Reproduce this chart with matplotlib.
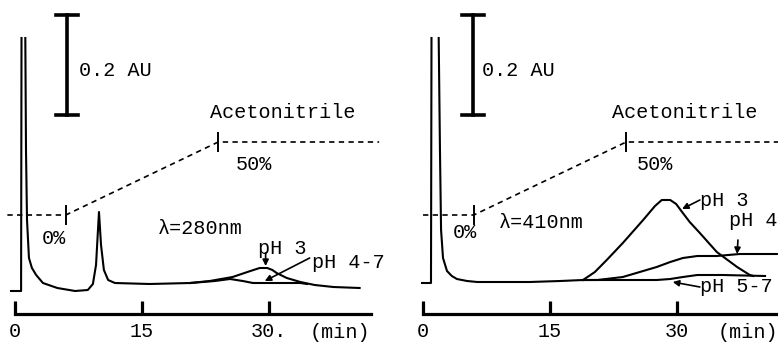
import matplotlib
matplotlib.use('Agg')
import matplotlib.pyplot as plt
import numpy as np

plt.rcParams['font.family'] = ['Liberation Mono', 'DejaVu Sans Mono']

nan = np.nan

# ---------------- data ----------------
# acetonitrile gradient programme (time in min, % acetonitrile)
grad_time_left = [-0.9, 6, 24, 43]
grad_time_right = [0, 6, 24, 42]
grad_pct = [0, 0, 50, 50]
grad_tick_time = [6, 24]

# x axis ticks
xtick_vals = [0, 15, 30]
xtick_left_labels = ['0', '15', '30.']
xtick_right_labels = ['0', '15', '30']

# 280 nm chromatogram (time min, absorbance AU relative to baseline)
t280_main = [-0.47, 0.72, 0.77, nan, 1.22, 1.30, 1.42, 1.65, 2.0, 2.5, 3.3, 5.0, 7.1,
             8.6, 9.2, 9.57, 9.92, 10.16, 10.5, 11.0, 11.8, 15.9, 20.7]
a280_main = [-0.016, -0.016, 0.49, nan, 0.49, 0.266, 0.126, 0.05, 0.03, 0.016, 0.0, -0.01, -0.016,
             -0.014, -0.002, 0.036, 0.142, 0.076, 0.026, 0.006, 0.0, -0.002, 0.0]
t280_ph3 = [20.7, 23.0, 25.7, 27.8, 28.9, 29.8, 30.4, 30.9, 32.1, 33.7, 35.4, 37.6, 40.7]
a280_ph3 = [0.0, 0.004, 0.012, 0.024, 0.03, 0.03, 0.026, 0.02, 0.01, 0.002, -0.004, -0.008, -0.01]
t280_ph47 = [20.7, 23.6, 25.4, 26.9, 28.1, 30.1, 32.1, 33.7, 34.5]
a280_ph47 = [0.0, 0.004, 0.008, 0.004, 0.0, 0.0, 0.0, 0.0, -0.002]

# 410 nm chromatogram
t410_main = [-0.12, 0.94, 1.0, nan, 1.85, 2.0, 2.13, 2.36, 2.83, 3.4, 4.0, 5.2, 6.4, 12.6, 16.2, 18.9]
a410_main = [0.0, 0.0, 0.49, nan, 0.49, 0.266, 0.106, 0.05, 0.024, 0.014, 0.008, 0.004, 0.002,
             0.002, 0.004, 0.006]
t410_ph3 = [18.9, 20.3, 21.7, 23.6, 26.0, 27.4, 28.2, 29.2, 29.9, 30.6, 31.5, 32.7, 34.7,
            37.1, 38.6, 39.0]
a410_ph3 = [0.006, 0.022, 0.046, 0.08, 0.126, 0.154, 0.166, 0.166, 0.158, 0.142, 0.122, 0.1,
            0.062, 0.032, 0.016, 0.014]
t410_ph4 = [18.9, 20.6, 23.6, 25.6, 27.6, 29.2, 30.7, 32.4, 34.7, 37.4, 41.8]
a410_ph4 = [0.006, 0.006, 0.012, 0.022, 0.032, 0.042, 0.05, 0.054, 0.054, 0.058, 0.058]
t410_ph57 = [18.9, 23.6, 27.6, 29.2, 30.7, 32.4, 35.4, 40.4]
a410_ph57 = [0.006, 0.006, 0.006, 0.008, 0.012, 0.016, 0.016, 0.014]

scale_bar_au = 0.2
grad_base_au = 0.136
grad_au_per_pct = 0.146 / 50

FS = 14.5
LW = 1.5

fig = plt.figure(figsize=(7.78, 3.42), dpi=100)
axL = fig.add_axes([0, 0, 389 / 778, 1])
axR = fig.add_axes([389 / 778, 0, 389 / 778, 1])
axL.set_xlim(-1.77, 44.17)
axR.set_xlim(-4.02, 41.93)


def style_axis(ax, labels, xmax):
    ax.set_ylim(-0.118, 0.566)
    ax.patch.set_alpha(0)
    for s in ['top', 'left', 'right']:
        ax.spines[s].set_visible(False)
    ax.spines['bottom'].set_position(('data', -0.062))
    ax.spines['bottom'].set_bounds(0, xmax)
    ax.spines['bottom'].set_linewidth(2.3)
    ax.set_yticks([])
    ax.set_xticks(xtick_vals)
    ax.set_xticklabels(labels)
    ax.tick_params(axis='x', direction='in', length=9.5, width=2.3, pad=6,
                   labelsize=FS)


def gradient(ax, gt):
    g = [grad_base_au + p * grad_au_per_pct for p in grad_pct]
    ax.plot(gt, g, color='k', lw=1.2, ls=(0, (3.2, 2.6)))
    for tt in grad_tick_time:
        gv = grad_base_au + np.interp(tt, grad_time_right, grad_pct) * grad_au_per_pct
        ax.plot([tt, tt], [gv - 0.018, gv + 0.018], color='k', lw=1.4)


def scale_bar(ax, t0, top):
    ax.plot([t0, t0], [top - scale_bar_au, top], color='k', lw=2.6)
    ax.plot([t0 - 1.3, t0 + 1.3], [top, top], color='k', lw=2.6)
    ax.plot([t0 - 1.3, t0 + 1.3], [top - scale_bar_au, top - scale_bar_au], color='k', lw=2.6)


def arrow(ax, start, end):
    ax.annotate('', xy=end, xytext=start,
                arrowprops=dict(arrowstyle='-|>', color='k', lw=1.2,
                                mutation_scale=9, shrinkA=0, shrinkB=0))


# ---------------- left panel (280 nm) ----------------
style_axis(axL, xtick_left_labels, 42)
axL.plot(t280_main, a280_main, color='k', lw=LW)
axL.plot(t280_ph3, a280_ph3, color='k', lw=LW)
axL.plot(t280_ph47, a280_ph47, color='k', lw=LW)
gradient(axL, grad_time_left)
scale_bar(axL, 6.14, 0.536)
axL.text(7.6, 0.426, '0.2 AU', fontsize=FS, ha='left', va='center')
axL.text(23.0, 0.342, 'Acetonitrile', fontsize=FS, ha='left', va='center')
axL.text(26.1, 0.236, '50%', fontsize=FS, ha='left', va='center')
axL.text(3.2, 0.09, '0%', fontsize=FS, ha='left', va='center')
axL.text(16.9, 0.11, 'λ=280nm', fontsize=FS, ha='left', va='center')
axL.text(28.7, 0.07, 'pH 3', fontsize=FS, ha='left', va='center')
axL.text(35.1, 0.042, 'pH 4-7', fontsize=FS, ha='left', va='center')
axL.text(34.8, -0.1, '(min)', fontsize=FS, ha='left', va='center')
arrow(axL, (29.6, 0.06), (29.6, 0.034))
arrow(axL, (34.8, 0.05), (29.5, 0.004))

# ---------------- right panel (410 nm) ----------------
style_axis(axR, xtick_right_labels, 42)
axR.plot(t410_main, a410_main, color='k', lw=LW)
axR.plot(t410_ph3, a410_ph3, color='k', lw=LW)
axR.plot(t410_ph4, a410_ph4, color='k', lw=LW)
axR.plot(t410_ph57, a410_ph57, color='k', lw=LW)
gradient(axR, grad_time_right)
scale_bar(axR, 5.9, 0.536)
axR.text(7.0, 0.426, '0.2 AU', fontsize=FS, ha='left', va='center')
axR.text(22.3, 0.342, 'Acetonitrile', fontsize=FS, ha='left', va='center')
axR.text(25.3, 0.236, '50%', fontsize=FS, ha='left', va='center')
axR.text(3.5, 0.102, '0%', fontsize=FS, ha='left', va='center')
axR.text(8.9, 0.122, 'λ=410nm', fontsize=FS, ha='left', va='center')
axR.text(32.7, 0.166, 'pH 3', fontsize=FS, ha='left', va='center')
axR.text(36.1, 0.124, 'pH 4', fontsize=FS, ha='left', va='center')
axR.text(32.7, -0.008, 'pH 5-7', fontsize=FS, ha='left', va='center')
axR.text(34.8, -0.1, '(min)', fontsize=FS, ha='left', va='center')
arrow(axR, (32.7, 0.166), (30.6, 0.148))
arrow(axR, (37.2, 0.086), (37.1, 0.058))
arrow(axR, (32.7, -0.008), (29.5, 0.002))

fig.savefig('out.png', dpi=100)
